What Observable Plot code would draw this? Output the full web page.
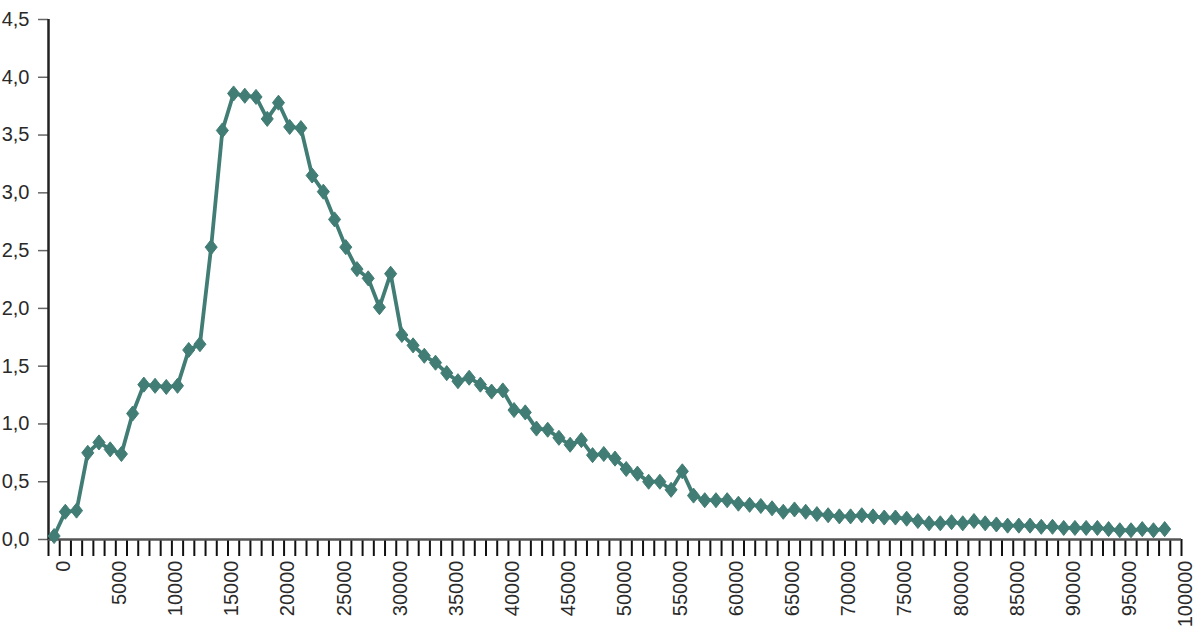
<!DOCTYPE html>
<html>
<head>
<meta charset="utf-8">
<script src="https://cdn.jsdelivr.net/npm/d3@7"></script>
<script src="https://cdn.jsdelivr.net/npm/@observablehq/plot@0.6"></script>
<style>
  html, body { margin: 0; padding: 0; background: #fff; }
</style>
</head>
<body>
<div id="chart"></div>
<script>
// Bin centres (x) and values (y)
const binStart = -500;
const binStep = 1000;
const values = [
  0.03, 0.24, 0.25, 0.75, 0.84, 0.78, 0.74, 1.09, 1.34, 1.33,
  1.32, 1.33, 1.64, 1.69, 2.53, 3.54, 3.86, 3.84, 3.83, 3.64,
  3.78, 3.57, 3.56, 3.15, 3.01, 2.77, 2.53, 2.34, 2.26, 2.01,
  2.30, 1.77, 1.68, 1.59, 1.53, 1.44, 1.37, 1.40, 1.34, 1.28,
  1.29, 1.12, 1.10, 0.96, 0.95, 0.88, 0.82, 0.86, 0.73, 0.74,
  0.70, 0.61, 0.57, 0.50, 0.50, 0.43, 0.59, 0.38, 0.34, 0.34,
  0.34, 0.31, 0.30, 0.29, 0.27, 0.24, 0.26, 0.24, 0.22, 0.21,
  0.20, 0.20, 0.21, 0.20, 0.19, 0.19, 0.18, 0.16, 0.14, 0.14,
  0.15, 0.14, 0.16, 0.14, 0.13, 0.12, 0.12, 0.12, 0.11, 0.11,
  0.10, 0.10, 0.10, 0.10, 0.09, 0.08, 0.08, 0.09, 0.08, 0.09
];
const xCategories = values.map((_, i) => binStart + i * binStep);

const xDomain = [-1000, 100000];
const xMinorTicks = d3.range(-1000, 100001, 1000);
const xLabelTicks = d3.range(0, 100001, 5000);
const yTicks = [0, 0.5, 1, 1.5, 2, 2.5, 3, 3.5, 4, 4.5];
const yFormat = d => d.toFixed(1).replace(".", ",");

const color = "#417d74";
const data = values.map((v, i) => ({x: xCategories[i], y: v}));

// slightly elongated diamond marker
const fatDiamond = {
  draw(context, size) {
    const h = Math.sqrt(size) * 0.85;
    const w = h * 0.8;
    context.moveTo(0, -h);
    context.lineTo(w, 0);
    context.lineTo(0, h);
    context.lineTo(-w, 0);
    context.closePath();
  }
};

const chart = Plot.plot({
  width: 1200,
  height: 635,
  marginLeft: 48,
  marginRight: 19,
  marginTop: 19,
  marginBottom: 96,
  style: {fontFamily: "'Liberation Sans', Arial, sans-serif", fontSize: "20px", color: "#333", background: "#fff"},
  x: {domain: xDomain},
  y: {domain: [0, 4.5]},
  marks: [
    Plot.axisY({ticks: yTicks, tickFormat: yFormat, tickSize: 10, tickPadding: 9, stroke: "#666", strokeWidth: 1.5, fontSize: 20, fill: "#2a2a2a", label: null}),
    Plot.axisX({ticks: xMinorTicks, tickFormat: () => "", tickSize: 17, stroke: "#111", strokeWidth: 2, label: null}),
    Plot.axisX({ticks: xLabelTicks, tickFormat: d => String(d), tickSize: 0, tickPadding: 21, tickRotate: -90, dx: 4, fontSize: 20, fill: "#2a2a2a", label: null}),
    Plot.ruleY([0], {stroke: "#555", strokeWidth: 2.5}),
    Plot.ruleX([xDomain[0]], {stroke: "#222", strokeWidth: 2.5}),
    Plot.line(data, {x: "x", y: "y", stroke: color, strokeWidth: 3.8}),
    Plot.dot(data, {x: "x", y: "y", symbol: fatDiamond, r: 5, fill: color, stroke: color, strokeWidth: 1})
  ]
});
document.getElementById("chart").appendChild(chart);
</script>
</body>
</html>
